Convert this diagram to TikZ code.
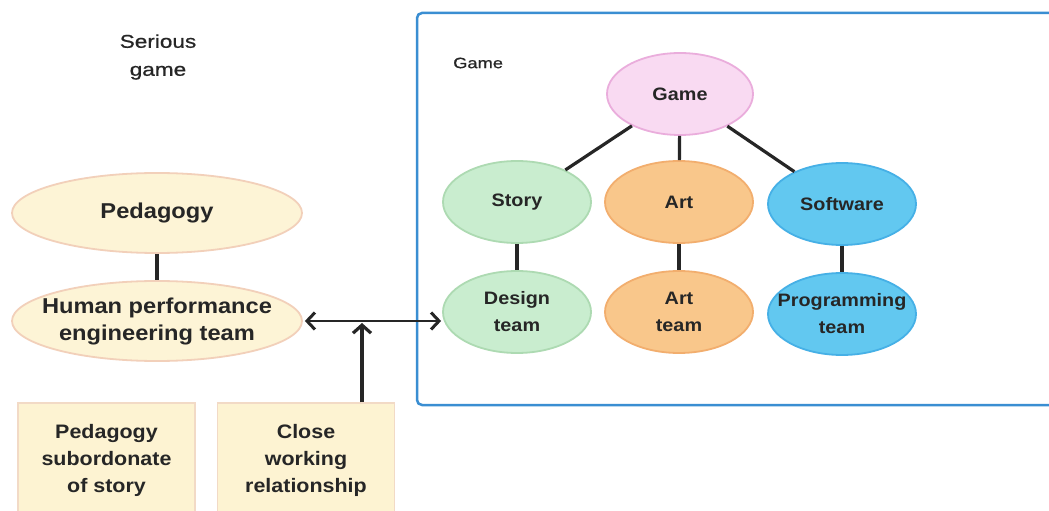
\documentclass[tikz,border=0pt]{standalone}
\usepackage{fontspec}
\usetikzlibrary{shapes.geometric,arrows.meta}
\newfontfamily\nodefont{Liberation Sans}[FakeStretch=1.1]
\newfontfamily\labfont{Liberation Sans}[FakeStretch=1.22,FakeBold=0.8]
\definecolor{txt}{HTML}{262626}
\definecolor{pedfill}{HTML}{FDF4D6}
\definecolor{peddraw}{HTML}{F2D0BA}
\definecolor{boxfill}{HTML}{FDF3D2}
\definecolor{boxdraw}{HTML}{F2DAC6}
\definecolor{gamefill}{HTML}{F9DAF2}
\definecolor{gamedraw}{HTML}{EAADDC}
\definecolor{greenfill}{HTML}{C9EDCF}
\definecolor{greendraw}{HTML}{ADDAB2}
\definecolor{artfill}{HTML}{F9C78B}
\definecolor{artdraw}{HTML}{F2AE6E}
\definecolor{swfill}{HTML}{62C8F0}
\definecolor{swdraw}{HTML}{46B0E6}
\definecolor{frame}{HTML}{3A8ED2}
\definecolor{conn}{HTML}{262626}
\tikzset{
  ell/.style={ellipse, draw, line width=1.8bp, inner xsep=-40bp, inner ysep=-12bp, align=center, text=txt},
  leftell/.style={ell, fill=pedfill, draw=peddraw, minimum width=290bp, minimum height=80bp,
     font=\nodefont\bfseries\fontsize{21.5bp}{27bp}\selectfont},
  rightell/.style={ell, minimum width=148bp, minimum height=82bp,
     font=\nodefont\bfseries\fontsize{18bp}{27bp}\selectfont},
  notebox/.style={rectangle, draw=boxdraw, fill=boxfill, line width=1.2bp, minimum width=177bp,
     minimum height=114bp, align=center, text=txt,
     font=\nodefont\bfseries\fontsize{19.5bp}{27bp}\selectfont},
  lab/.style={align=center, text=txt, inner sep=0pt},
  link/.style={draw=conn, line width=3.2bp},
}
\begin{document}
\begin{tikzpicture}[x=1bp,y=-1bp]
\clip (0,0) rectangle (1049,511);
\fill[white] (0,0) rectangle (1049,511);
% frame
\draw[frame, line width=2.5bp, rounded corners=5bp] (417,13) rectangle (1070,405);
% labels
\node[lab, font=\labfont\fontsize{18.5bp}{28bp}\selectfont] (serious) at (158,57) {Serious\\game};
\node[lab, anchor=west, font=\labfont\fontsize{15bp}{18bp}\selectfont] (gamelab) at (453,63) {Game};
% left nodes
\node[leftell] (ped) at (157,213) {Pedagogy};
\node[leftell] (hpe) at (157,321) {Human performance\\engineering team};
\node[notebox] (sub) at (106.5,460) {Pedagogy\\subordonate\\of story};
\node[notebox] (close) at (306,460) {Close\\working\\relationship};
% right nodes
\node[rightell, fill=gamefill, draw=gamedraw, minimum width=146bp] (game) at (680,94) {Game};
\node[rightell, fill=greenfill, draw=greendraw] (story) at (517,202) {Story};
\node[rightell, fill=artfill, draw=artdraw] (art) at (679,202) {Art};
\node[rightell, fill=swfill, draw=swdraw] (sw) at (842,204) {Software};
\node[rightell, fill=greenfill, draw=greendraw] (design) at (517,312) {Design\\team};
\node[rightell, fill=artfill, draw=artdraw] (artteam) at (679,312) {Art\\team};
\node[rightell, fill=swfill, draw=swdraw] (prog) at (842,314) {Programming\\team};
% connectors
\draw[link] (game) -- (story);
\draw[link] (game) -- (art);
\draw[link] (game) -- (sw);
\draw[link] (story) -- (design);
\draw[link] (art) -- (artteam);
\draw[link] (sw) -- (prog);
\draw[link] (ped) -- (hpe);
\draw[link, line width=2.6bp, {Straight Barb[length=8bp,width=17bp,line width=3bp]}-{Straight Barb[length=8bp,width=17bp,line width=3bp]}, shorten <=2bp, shorten >=1bp] (hpe.east) -- (hpe.east -| design.west);
\coordinate (j) at (362,323);
\draw[link, line width=4bp, -{Straight Barb[length=8bp,width=18bp,line width=3.2bp]}] (close.north -| j) -- (j);
\end{tikzpicture}
\end{document}
